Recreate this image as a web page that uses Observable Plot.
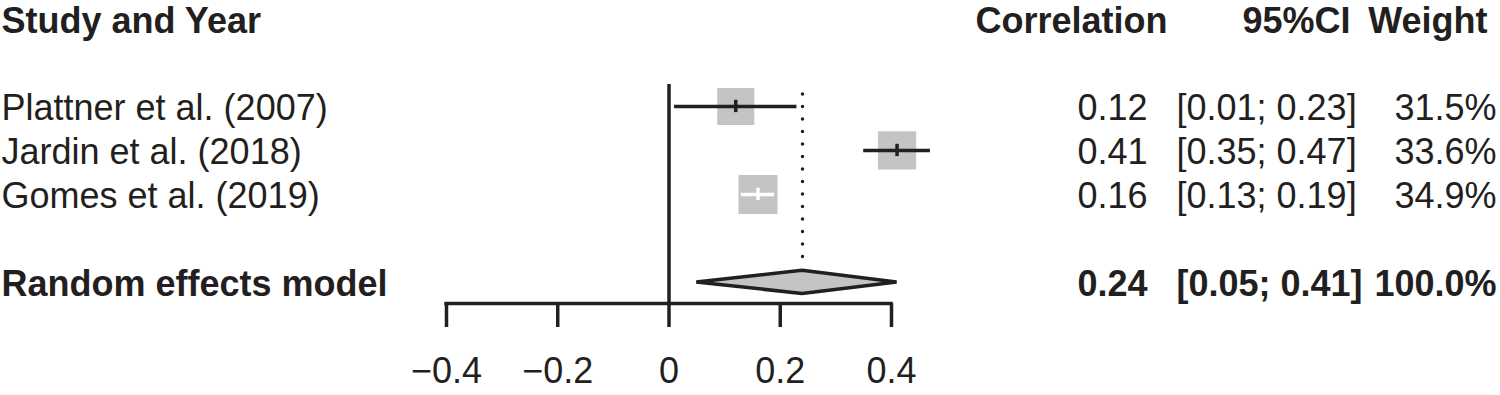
<!DOCTYPE html>
<html>
<head>
<meta charset="utf-8">
<script src="https://cdn.jsdelivr.net/npm/d3@7"></script>
<script src="https://cdn.jsdelivr.net/npm/@observablehq/plot@0.6"></script>
<style>
  html, body { margin: 0; padding: 0; background: #fff; }
</style>
</head>
<body>
<div id="chart"></div>
<script>
// ---- data ----
const studies = ["Plattner et al. (2007)", "Jardin et al. (2018)", "Gomes et al. (2019)"];
const estimates = [0.12, 0.41, 0.16];
const lowers = [0.01, 0.35, 0.13];
const uppers = [0.23, 0.47, 0.19];
const weights = [31.5, 33.6, 34.9];
const pooledLabel = "Random effects model";
const pooledEstimate = 0.24;
const pooledLower = 0.05;
const pooledUpper = 0.41;
const pooledWeight = 100.0;
const headers = ["Study and Year", "Correlation", "95%CI", "Weight"];
const xTicks = [-0.4, -0.2, 0, 0.2, 0.4];

// ---- layout ----
const W = 1500, H = 395;
const ink = "#231f20";
const boxFill = "#c4c4c4";
const lw = 3.5;
const xDomain = [-0.4, 0.4];
const xRange = [446, 891];
const xs = d3.scaleLinear(xDomain, xRange);
const rMax = 22; // px radius for the largest weight
const rScale = d3.scaleSqrt([0, d3.max(weights)], [0, rMax]);

const f2 = v => v.toFixed(2);
const rows = studies.map((s, i) => {
  const side = rScale(weights[i]) * Math.sqrt(Math.PI);
  return {
    label: s, est: estimates[i], lo: lowers[i], hi: uppers[i], w: weights[i],
    row: 2 + i,
    inside: (xs(uppers[i]) - xs(lowers[i])) < side,
    cor: f2(estimates[i]),
    ci: `[${f2(lowers[i])}; ${f2(uppers[i])}]`,
    wt: weights[i].toFixed(1) + "%"
  };
});
const pooledRow = studies.length + 3;
const pooled = [{
  label: pooledLabel, row: pooledRow,
  cor: f2(pooledEstimate),
  ci: `[${f2(pooledLower)}; ${f2(pooledUpper)}]`,
  wt: pooledWeight.toFixed(1) + "%"
}];
const dh = 0.265; // diamond half height in rows
const diamond = [
  {x: pooledLower, y1: pooledRow, y2: pooledRow},
  {x: pooledEstimate, y1: pooledRow - dh, y2: pooledRow + dh},
  {x: pooledUpper, y1: pooledRow, y2: pooledRow}
];
const headerRow = [{row: 0}];
const axisRow = pooledRow + 0.48;

const font = "'Liberation Sans', Arial, Helvetica, sans-serif";
const tickFmt = d => d === 0 ? "0" : d.toFixed(1).replace("-", "\u2212");
const tdy = 2.5;

const chart = Plot.plot({
  width: W,
  height: H,
  marginLeft: 0,
  marginRight: 0,
  marginTop: 18,
  marginBottom: 92,
  style: {fontFamily: font, fontSize: "36px", color: ink, background: "#fff"},
  x: {domain: xDomain, range: xRange},
  y: {domain: [0, axisRow], range: [18, 303], axis: null},
  r: {type: "sqrt", domain: [0, d3.max(weights)], range: [0, rMax]},
  marks: [
    // x axis line and ticks
    Plot.ruleY([axisRow], {x1: xDomain[0], x2: xDomain[1], stroke: ink, strokeWidth: lw, strokeLinecap: "square"}),
    Plot.axisX(xTicks, {anchor: "bottom", tickSize: 24, tickPadding: 30, strokeWidth: lw, stroke: ink, fill: ink,
      label: null, tickFormat: tickFmt}),
    // line of no effect
    Plot.ruleX([0], {y1: 1.5, y2: axisRow, stroke: ink, strokeWidth: lw}),
    // pooled estimate dotted line
    Plot.ruleX([pooledEstimate], {y1: 1.73, y2: pooledRow - dh - 0.06, stroke: ink, strokeWidth: 3.5,
      strokeDasharray: "0 12.5", strokeLinecap: "round"}),
    // study squares
    Plot.dot(rows, {x: "est", y: "row", r: "w", symbol: "square", fill: boxFill, stroke: null}),
    // CI lines
    Plot.ruleY(rows, {y: "row", x1: "lo", x2: "hi", stroke: d => d.inside ? "#fff" : ink, strokeWidth: lw}),
    Plot.ruleX(rows, {x: "est", y1: d => d.row - 0.14, y2: d => d.row + 0.14,
      stroke: d => d.inside ? "#fff" : ink, strokeWidth: lw}),
    // diamond
    Plot.areaY(diamond, {x: "x", y1: "y1", y2: "y2", fill: boxFill, stroke: ink, strokeWidth: lw, strokeLinejoin: "miter"}),
    // header
    Plot.text(headerRow, {y: "row", text: () => headers[0], frameAnchor: "left", dx: 1, dy: tdy, textAnchor: "start", fontWeight: "bold", fill: ink}),
    Plot.text(headerRow, {y: "row", text: () => headers[1], frameAnchor: "left", dx: 1167, dy: tdy, textAnchor: "end", fontWeight: "bold", fill: ink}),
    Plot.text(headerRow, {y: "row", text: () => headers[2], frameAnchor: "left", dx: 1350, dy: tdy, textAnchor: "end", fontWeight: "bold", fill: ink}),
    Plot.text(headerRow, {y: "row", text: () => headers[3], frameAnchor: "left", dx: 1487, dy: tdy, textAnchor: "end", fontWeight: "bold", fill: ink}),
    // study rows
    Plot.text(rows, {y: "row", text: "label", frameAnchor: "left", dx: 1, dy: tdy, textAnchor: "start", fill: ink}),
    Plot.text(rows, {y: "row", text: "cor", frameAnchor: "left", dx: 1147, dy: tdy, textAnchor: "end", fill: ink}),
    Plot.text(rows, {y: "row", text: "ci", frameAnchor: "left", dx: 1176, dy: tdy, textAnchor: "start", fill: ink}),
    Plot.text(rows, {y: "row", text: "wt", frameAnchor: "left", dx: 1496, dy: tdy, textAnchor: "end", fill: ink}),
    // pooled row
    Plot.text(pooled, {y: "row", text: "label", frameAnchor: "left", dx: 1, dy: tdy, textAnchor: "start", fontWeight: "bold", fill: ink}),
    Plot.text(pooled, {y: "row", text: "cor", frameAnchor: "left", dx: 1147, dy: tdy, textAnchor: "end", fontWeight: "bold", fill: ink}),
    Plot.text(pooled, {y: "row", text: "ci", frameAnchor: "left", dx: 1176, dy: tdy, textAnchor: "start", fontWeight: "bold", fill: ink}),
    Plot.text(pooled, {y: "row", text: "wt", frameAnchor: "left", dx: 1496, dy: tdy, textAnchor: "end", fontWeight: "bold", fill: ink})
  ]
});
document.getElementById("chart").appendChild(chart);
</script>
</body>
</html>
